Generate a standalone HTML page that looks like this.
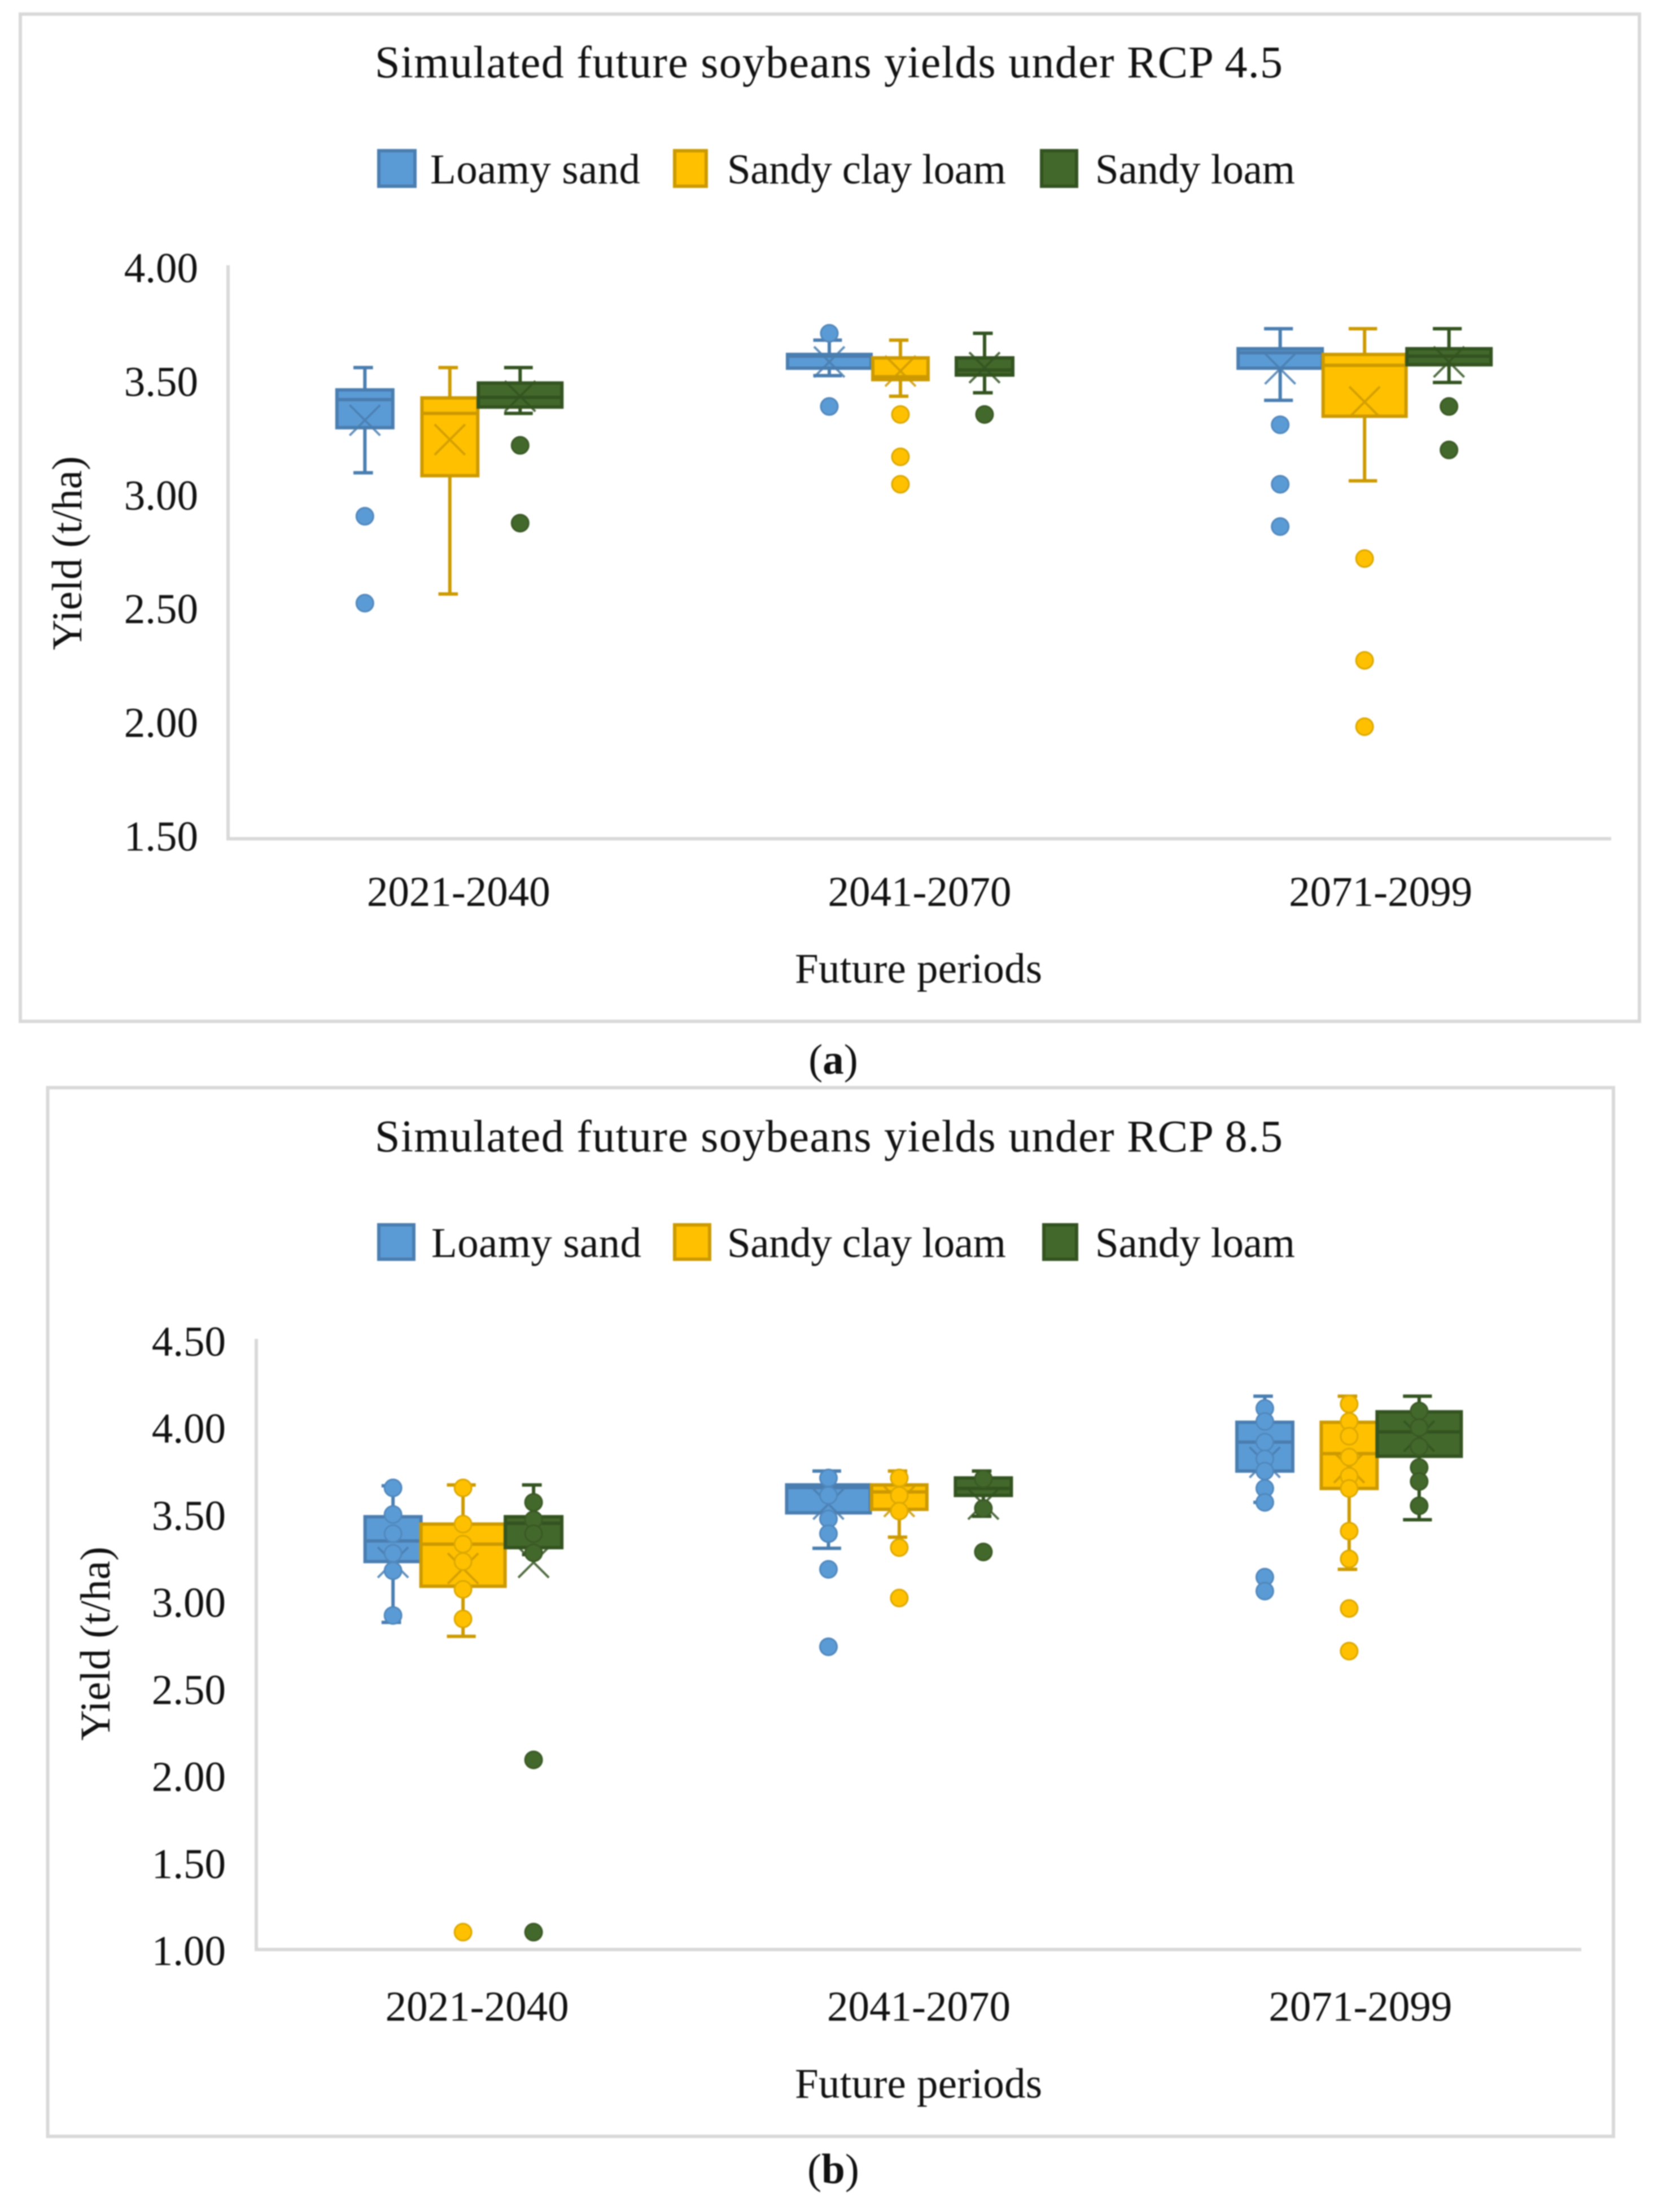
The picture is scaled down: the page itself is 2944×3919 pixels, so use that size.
<!DOCTYPE html>
<html lang="en">
<head>
<meta charset="utf-8">
<title>Simulated future soybeans yields</title>
<style>
html,body{margin:0;padding:0;background:#fff;}
svg{display:block;filter:blur(1px);}
text{font-family:"Liberation Serif","DejaVu Serif",serif;font-size:75px;fill:#111;}
text.chart-title{font-size:80px;}
</style>
</head>
<body>
<svg id="figure" xmlns="http://www.w3.org/2000/svg" width="2944" height="3919" viewBox="0 0 2944 3919">
  <rect x="0" y="0" width="2944" height="3919" fill="#fff"/>

  <g id="panel-a">
    <rect x="36" y="25" width="2868" height="1784.5" fill="#fff" stroke="#d9d9d9" stroke-width="6"/>
    <text class="chart-title" x="664" y="137" textLength="1608">Simulated future soybeans yields under RCP 4.5</text>
    <g>
      <rect x="671" y="267" width="64" height="63" fill="#5b9bd5" stroke="#4a7eb0" stroke-width="6"/>
      <text x="762" y="325" textLength="372">Loamy sand</text>
      <rect x="1195" y="267" width="56" height="63" fill="#ffc000" stroke="#cc9a00" stroke-width="6"/>
      <text x="1288" y="325" textLength="494">Sandy clay loam</text>
      <rect x="1845" y="267" width="62" height="63" fill="#43682b" stroke="#335320" stroke-width="6"/>
      <text x="1940" y="325" textLength="354">Sandy loam</text>
    </g>
    <text transform="translate(144 980) rotate(-90)" text-anchor="middle">Yield (t/ha)</text>
    <text x="1408" y="1741" textLength="438">Future periods</text>
    <g id="plot-a"></g>
  </g>
  <text x="1476" y="1902" text-anchor="middle">(<tspan font-weight="bold">a</tspan>)</text>

  <g id="panel-b">
    <rect x="84.5" y="1927" width="2773.5" height="1858" fill="#fff" stroke="#d9d9d9" stroke-width="6"/>
    <text class="chart-title" x="664" y="2040" textLength="1608">Simulated future soybeans yields under RCP 8.5</text>
    <g>
      <rect x="671" y="2170" width="62" height="61" fill="#5b9bd5" stroke="#4a7eb0" stroke-width="6"/>
      <text x="764" y="2227" textLength="372">Loamy sand</text>
      <rect x="1195" y="2170" width="62" height="61" fill="#ffc000" stroke="#cc9a00" stroke-width="6"/>
      <text x="1288" y="2227" textLength="494">Sandy clay loam</text>
      <rect x="1849" y="2170" width="58" height="61" fill="#43682b" stroke="#335320" stroke-width="6"/>
      <text x="1940" y="2227" textLength="354">Sandy loam</text>
    </g>
    <text transform="translate(194 2912) rotate(-90)" text-anchor="middle">Yield (t/ha)</text>
    <text x="1408" y="3716.5" textLength="438">Future periods</text>
    <g id="plot-b"></g>
  </g>
  <text x="1476" y="3868" text-anchor="middle">(<tspan font-weight="bold">b</tspan>)</text>
</svg>

<script>
// ---- Shared labels ----
const categories = ['2021-2040', '2041-2070', '2071-2099'];
const seriesKeys = ['loamy-sand', 'sandy-clay-loam', 'sandy-loam'];

// ---- Panel (a) RCP 4.5: rows = series, columns = periods ----
const aTicks = [4.0, 3.5, 3.0, 2.5, 2.0, 1.5];
const aWhiskerHigh = [[3.56, 3.68, 3.73], [3.56, 3.68, 3.73], [3.56, 3.71, 3.73]];
const aQ3 = [[3.47, 3.625, 3.65], [3.435, 3.61, 3.625], [3.50, 3.61, 3.65]];
const aMedian = [[3.42, 3.61, 3.625], [3.36, 3.52, 3.57], [3.43, 3.55, 3.61]];
const aQ1 = [[3.29, 3.55, 3.55], [3.08, 3.50, 3.34], [3.38, 3.52, 3.565]];
const aWhiskerLow = [[3.10, 3.525, 3.417], [2.57, 3.435, 3.065], [3.36, 3.45, 3.495]];
const aMean = [[3.33, 3.585, 3.555], [3.245, 3.545, 3.41], [3.435, 3.56, 3.585]];
const aOutliers = [
  [[2.91, 2.53], [3.71, 3.39], [3.31, 3.05, 2.865]],
  [[], [3.355, 3.17, 3.05], [2.725, 2.28, 1.99]],
  [[3.22, 2.88], [3.355], [3.39, 3.20]]
];

// ---- Panel (b) RCP 8.5: rows = series, columns = periods ----
const bTicks = [4.5, 4.0, 3.5, 3.0, 2.5, 2.0, 1.5, 1.0];
const bWhiskerHigh = [[3.665, 3.75, 4.18], [3.67, 3.75, 4.18], [3.67, 3.75, 4.18]];
const bQ3 = [[3.497, 3.68, 4.04], [3.455, 3.68, 4.04], [3.497, 3.72, 4.10]];
const bMedian = [[3.348, 3.655, 3.916], [3.33, 3.63, 3.85], [3.45, 3.65, 3.975]];
const bQ1 = [[3.22, 3.50, 3.74], [3.078, 3.52, 3.64], [3.30, 3.60, 3.825]];
const bWhiskerLow = [[2.88, 3.306, 3.57], [2.80, 3.37, 3.185], [3.27, 3.49, 3.47]];
const bMean = [[3.225, 3.56, 3.80], [3.19, 3.575, 3.77], [3.225, 3.56, 3.95]];
const bOutliers = [
  [[3.653, 3.50, 3.39, 3.277, 3.177, 2.92], [3.71, 3.61, 3.475, 3.39, 3.185, 2.74], [4.11, 4.035, 3.916, 3.82, 3.75, 3.65, 3.57, 3.14, 3.06]],
  [[3.653, 3.445, 3.33, 3.23, 3.07, 2.90, 1.10], [3.71, 3.61, 3.52, 3.31, 3.02], [4.135, 4.035, 3.95, 3.83, 3.72, 3.65, 3.405, 3.245, 2.96, 2.715]],
  [[3.57, 3.47, 3.39, 3.28, 2.09, 1.10], [3.705, 3.535, 3.285], [4.095, 4.0, 3.89, 3.77, 3.69, 3.55]]
];

// ---- Layout (not data): axis frames, per-box slot offset and width ----
const SVGNS = 'http://www.w3.org/2000/svg';
const fills = ['#5b9bd5', '#ffc000', '#43682b'];
const strokes = ['#4a7eb0', '#cc9a00', '#335320'];
const dotStrokes = ['#5088bd', '#dca900', '#3a5a25'];
const layoutA = {
  plotId: 'plot-a', left: 404, right: 2854, axisTop: 470, baseline: 1486,
  vHigh: 4.0, pxHigh: 473, vLow: 1.5, pxLow: 1486,
  labelRight: 351, labelHigh: 500, labelLow: 1507, catLabelY: 1605,
  slots: [[[-166, 105], [-160, 154], [-178, 155]], [[-15.5, 105], [-34, 104], [-28.5, 153]], [[109, 154], [115, 106], [121, 155]]]
};
const layoutB = {
  plotId: 'plot-b', left: 454, right: 2801, axisTop: 2372, baseline: 3454,
  vHigh: 4.5, pxHigh: 2375, vLow: 1.0, pxLow: 3454,
  labelRight: 400, labelHigh: 2402, labelLow: 3481.5, catLabelY: 3580,
  slots: [[[-149, 105], [-160, 154], [-169.4, 105]], [[-25, 155], [-34.6, 104], [-20, 105]], [[100, 106], [114.4, 105], [104, 155]]]
};

function svgEl(parent, tag, attrs) {
  const el = document.createElementNS(SVGNS, tag);
  for (const k in attrs) el.setAttribute(k, attrs[k]);
  parent.appendChild(el);
  return el;
}

function drawChart(L, ticks, high, q3, med, q1, low, mean, outliers) {
  const plot = document.getElementById(L.plotId);
  const y = v => L.pxLow + (v - L.vLow) * (L.pxHigh - L.pxLow) / (L.vHigh - L.vLow);
  const labelY = v => L.labelLow + (v - L.vLow) * (L.labelHigh - L.labelLow) / (L.vHigh - L.vLow);
  const band = (L.right - L.left) / categories.length;
  const catX = i => L.left + band * (i + 0.5);

  const yAxis = svgEl(plot, 'line', {x1: L.left, x2: L.left, y1: L.axisTop, y2: L.baseline, stroke: '#d9d9d9', 'stroke-width': 6});
  
  
  const xAxis = svgEl(plot, 'line', {x1: L.left - 3, x2: L.right, y1: L.baseline, y2: L.baseline, stroke: '#d9d9d9', 'stroke-width': 6});
  
  

  ticks.forEach(t => {
    const lab = svgEl(plot, 'text', {x: L.labelRight, y: labelY(t), 'text-anchor': 'end'});
    lab.textContent = t.toFixed(2);
    
    
  });
  categories.forEach((c, i) => {
    const lab = svgEl(plot, 'text', {x: catX(i), y: L.catLabelY, 'text-anchor': 'middle'});
    lab.textContent = c;
    
    
  });

  seriesKeys.forEach((key, s) => {
    categories.forEach((c, i) => {
      const slot = L.slots[s][i];
      const cx = catX(i) + slot[0];
      const w = slot[1];
      const capW = w * 0.33;
      const g = svgEl(plot, 'g', {});
      
      

      const whisker = svgEl(g, 'line', {x1: cx, x2: cx, y1: y(high[s][i]), y2: y(low[s][i]), stroke: strokes[s], 'stroke-width': 6});
      
      

      [high[s][i], low[s][i]].forEach(v => {
        const cap = svgEl(g, 'line', {x1: cx - 3 - capW / 2, x2: cx - 3 + capW / 2, y1: y(v), y2: y(v), stroke: strokes[s], 'stroke-width': 6});
        
        
      });

      const box = svgEl(g, 'rect', {x: cx - w / 2 + 3, y: y(q3[s][i]) + 3, width: w - 6, height: Math.max(0, y(q1[s][i]) - y(q3[s][i]) - 6), fill: fills[s], stroke: strokes[s], 'stroke-width': 6});
      
      

      const medLine = svgEl(g, 'line', {x1: cx - w / 2 + 3, x2: cx + w / 2 - 3, y1: y(med[s][i]), y2: y(med[s][i]), stroke: strokes[s], 'stroke-width': 6});
      
      

      const my = y(mean[s][i]);
      const meanMark = svgEl(g, 'path', {d: 'M' + (cx - 27) + ' ' + (my - 27) + 'L' + (cx + 27) + ' ' + (my + 27) + 'M' + (cx - 27) + ' ' + (my + 27) + 'L' + (cx + 27) + ' ' + (my - 27), fill: 'none', stroke: strokes[s], 'stroke-width': 4, opacity: 0.85});
      
      

      outliers[s][i].forEach(v => {
        const dot = svgEl(g, 'circle', {cx: cx, cy: y(v), r: 15, fill: fills[s], stroke: dotStrokes[s], 'stroke-width': 3});
        
        
      });
    });
  });
}

drawChart(layoutA, aTicks, aWhiskerHigh, aQ3, aMedian, aQ1, aWhiskerLow, aMean, aOutliers);
drawChart(layoutB, bTicks, bWhiskerHigh, bQ3, bMedian, bQ1, bWhiskerLow, bMean, bOutliers);
</script>
</body>
</html>
